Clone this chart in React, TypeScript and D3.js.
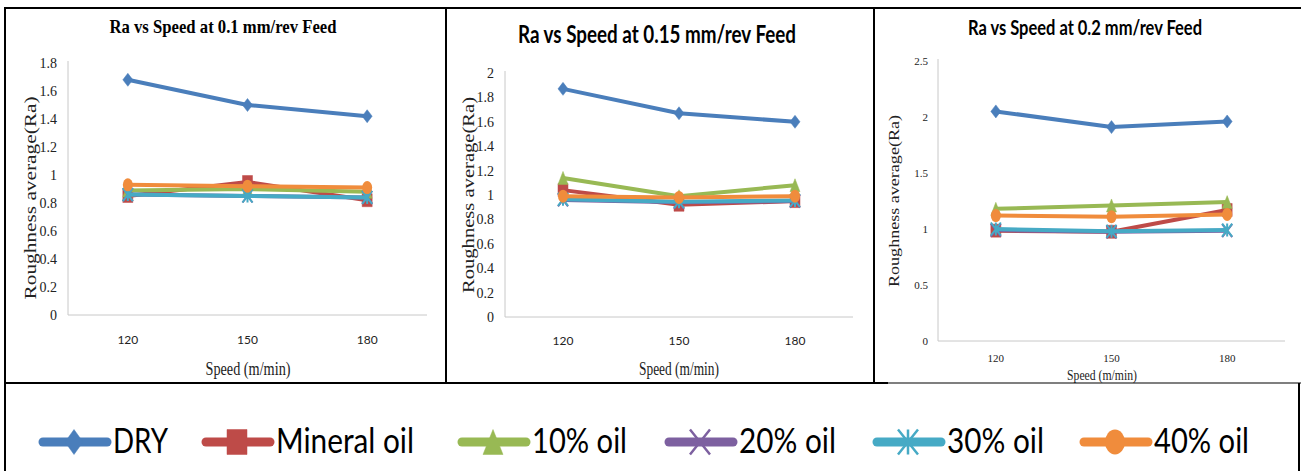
import React from "react";
import * as d3 from "d3";

const speeds = ["120", "150", "180"];
const seriesNames = ["DRY", "Mineral oil", "10% oil", "20% oil", "30% oil", "40% oil"];
const seriesColors = ["#4A7EBB", "#BE4B48", "#98B954", "#7D60A0", "#46AAC5", "#F08C3C"];
const seriesMarkers = ["diamond", "square", "triangle", "x", "star", "circle"];

// Ra values, one row per series (order of seriesNames), columns = speeds
const raFeed01 = [
  [1.68, 1.5, 1.42],
  [0.85, 0.95, 0.82],
  [0.89, 0.9, 0.88],
  [0.86, 0.85, 0.84],
  [0.86, 0.85, 0.84],
  [0.93, 0.92, 0.91],
];
const raFeed015 = [
  [1.87, 1.67, 1.6],
  [1.04, 0.92, 0.95],
  [1.14, 0.99, 1.08],
  [0.96, 0.94, 0.95],
  [0.965, 0.945, 0.955],
  [0.99, 0.98, 0.99],
];
const raFeed02 = [
  [2.05, 1.91, 1.96],
  [0.985, 0.975, 1.17],
  [1.18, 1.21, 1.24],
  [0.99, 0.975, 0.985],
  [1.0, 0.98, 0.99],
  [1.12, 1.11, 1.13],
];

const yTicks01 = [0, 0.2, 0.4, 0.6, 0.8, 1, 1.2, 1.4, 1.6, 1.8];
const yTicks015 = [0, 0.2, 0.4, 0.6, 0.8, 1, 1.2, 1.4, 1.6, 1.8, 2];
const yTicks02 = [0, 0.5, 1, 1.5, 2, 2.5];

const titles = [
  "Ra vs Speed at 0.1 mm/rev Feed",
  "Ra vs Speed at 0.15 mm/rev Feed",
  "Ra vs Speed at 0.2 mm/rev Feed",
];
const yAxisTitle = "Roughness average(Ra)";
const xAxisTitle = "Speed (m/min)";

const SERIF = "'Liberation Serif', 'DejaVu Serif', serif";
const SANS = "Lato, 'Liberation Sans', sans-serif";

function markerPath(kind: string, cx: number, cy: number, w: number, h: number): string {
  const hw = w / 2, hh = h / 2;
  switch (kind) {
    case "diamond":
      return `M${cx},${cy - hh}L${cx + hw},${cy}L${cx},${cy + hh}L${cx - hw},${cy}Z`;
    case "square":
      return `M${cx - hw},${cy - hh}H${cx + hw}V${cy + hh}H${cx - hw}Z`;
    case "triangle":
      return `M${cx},${cy - hh}L${cx + hw},${cy + hh}L${cx - hw},${cy + hh}Z`;
    case "x":
      return `M${cx - hw},${cy - hh}L${cx + hw},${cy + hh}M${cx + hw},${cy - hh}L${cx - hw},${cy + hh}`;
    case "star":
      return `M${cx - hw},${cy - hh}L${cx + hw},${cy + hh}M${cx + hw},${cy - hh}L${cx - hw},${cy + hh}M${cx},${cy - hh}V${cy + hh}`;
    default:
      return "";
  }
}

function Marker({ kind, cx, cy, w, h, color, sw }: any) {
  if (kind === "circle") {
    return <ellipse cx={cx} cy={cy} rx={w / 2} ry={h / 2} fill={color} />;
  }
  const stroked = kind === "x" || kind === "star";
  return (
    <path
      d={markerPath(kind, cx, cy, w, h)}
      fill={stroked ? "none" : color}
      stroke={color}
      strokeWidth={stroked ? sw : 0.5}
    />
  );
}

type PanelProps = {
  data: number[][];
  ticks: number[];
  yMax: number;
  x0: number; x1: number; yTop: number; yBot: number;
  title: string; titleX: number; titleY: number; titleSize: number; titleLen: number; titleFont: string;
  tickFont: string; tickSize: number; tickRight: number;
  xTickFont: string; xTickSize: number; xTickY: number;
  xLabX: number; xLabY: number; xLabSize: number; xLabLen: number;
  yLabX: number; yLabY: number; yLabSize: number; yLabLen: number;
};

function Panel(p: PanelProps) {
  const x = d3.scalePoint<string>().domain(speeds).range([p.x0, p.x1]).padding(0.5);
  const y = d3.scaleLinear().domain([0, p.yMax]).range([p.yBot, p.yTop]);
  const line = d3.line<number>().x((_, i) => x(speeds[i]) as number).y((v) => y(v));
  return (
    <g>
      <text x={p.titleX} y={p.titleY} textAnchor="middle" fontFamily={p.titleFont} fontWeight="bold"
        fontSize={p.titleSize} textLength={p.titleLen} lengthAdjust="spacingAndGlyphs" fill="#000">
        {p.title}
      </text>
      <line x1={p.x0} x2={p.x0} y1={p.yTop - 2} y2={p.yBot} stroke="#c8c8c8" strokeWidth={1} />
      <line x1={p.x0} x2={p.x1} y1={p.yBot} y2={p.yBot} stroke="#c8c8c8" strokeWidth={1} />
      {p.ticks.map((t) => (
        <text key={t} x={p.tickRight} y={y(t)} dy="0.35em" textAnchor="end" fontFamily={p.tickFont}
          fontSize={p.tickSize} fill="#222">
          {String(t)}
        </text>
      ))}
      {speeds.map((s) => (
        <text key={s} x={x(s)} y={p.xTickY} textAnchor="middle" fontFamily={p.xTickFont}
          fontSize={p.xTickSize} fill="#222">
          {s}
        </text>
      ))}
      <text x={p.xLabX} y={p.xLabY} textAnchor="middle" fontFamily={SERIF} fontSize={p.xLabSize}
        textLength={p.xLabLen} lengthAdjust="spacingAndGlyphs" fill="#222">
        {xAxisTitle}
      </text>
      <text transform={`translate(${p.yLabX},${p.yLabY}) rotate(-90)`} textAnchor="middle" dy="0.35em"
        fontFamily={SERIF} fontSize={p.yLabSize} textLength={p.yLabLen} lengthAdjust="spacingAndGlyphs" fill="#222">
        {yAxisTitle}
      </text>
      {p.data.map((vals, si) => (
        <g key={si}>
          <path d={line(vals) as string} fill="none" stroke={seriesColors[si]} strokeWidth={4}
            strokeLinejoin="round" />
          {vals.map((v, i) => (
            <Marker key={i} kind={seriesMarkers[si]} cx={x(speeds[i])} cy={y(v)} w={10} h={13}
              color={seriesColors[si]} sw={2} />
          ))}
        </g>
      ))}
    </g>
  );
}

const legendLineStart = [39, 202, 458, 665, 873, 1080];
const legendTextLen = [55, 138, 95, 97, 97, 95];

export default function App() {
  return (
    <svg width={1301} height={471} style={{ position: "absolute", left: 0, top: 0, display: "block", background: "#fff" }}>
      <rect x={0} y={0} width={1301} height={471} fill="#fff" />
      <Panel data={raFeed01} ticks={yTicks01} yMax={1.8} x0={68} x1={427} yTop={63} yBot={315}
        title={titles[0]} titleX={223} titleY={33} titleSize={19} titleLen={227} titleFont={SERIF}
        tickFont={SERIF} tickSize={14} tickRight={57}
        xTickFont={SANS} xTickSize={12} xTickY={344}
        xLabX={248} xLabY={375} xLabSize={18} xLabLen={85}
        yLabX={30} yLabY={198} yLabSize={17} yLabLen={203} />
      <Panel data={raFeed015} ticks={yTicks015} yMax={2} x0={505} x1={853} yTop={73} yBot={317}
        title={titles[1]} titleX={657} titleY={43} titleSize={24} titleLen={278} titleFont={SANS}
        tickFont={SERIF} tickSize={14} tickRight={494}
        xTickFont={SANS} xTickSize={12} xTickY={345}
        xLabX={679} xLabY={375} xLabSize={18} xLabLen={80}
        yLabX={468} yLabY={195} yLabSize={16} yLabLen={196} />
      <Panel data={raFeed02} ticks={yTicks02} yMax={2.5} x0={938} x1={1285} yTop={61} yBot={341}
        title={titles[2]} titleX={1085} titleY={35} titleSize={21} titleLen={234} titleFont={SANS}
        tickFont={SERIF} tickSize={11} tickRight={928}
        xTickFont={SERIF} xTickSize={11} xTickY={362}
        xLabX={1102} xLabY={380} xLabSize={15} xLabLen={70}
        yLabX={894} yLabY={201} yLabSize={14} yLabLen={172} />

      {/* table borders */}
      <line x1={5} x2={5} y1={7} y2={471} stroke="#000" strokeWidth={2} />
      <line x1={4} x2={1301} y1={8} y2={8} stroke="#000" strokeWidth={2} />
      <line x1={446} x2={446} y1={8} y2={383} stroke="#000" strokeWidth={2} />
      <line x1={874} x2={874} y1={8} y2={383} stroke="#000" strokeWidth={2} />
      <line x1={4} x2={888} y1={383} y2={383} stroke="#000" strokeWidth={2} />
      <line x1={888} x2={1301} y1={383} y2={383} stroke="#000" strokeWidth={1.2} />
      <line x1={1299} x2={1299} y1={383} y2={471} stroke="#000" strokeWidth={2} />

      {/* legend */}
      {seriesNames.map((name, i) => {
        const lx = legendLineStart[i];
        const cy = 442;
        return (
          <g key={name}>
            <line x1={lx + 4} x2={lx + 68} y1={cy} y2={cy} stroke={seriesColors[i]} strokeWidth={9}
              strokeLinecap="round" />
            <Marker kind={seriesMarkers[i]} cx={lx + 35} cy={cy} w={i === 0 ? 18 : 20} h={25}
              color={seriesColors[i]} sw={2.5} />
            <text x={lx + 74} y={453} fontFamily={SANS} fontSize={34} textLength={legendTextLen[i]}
              lengthAdjust="spacingAndGlyphs" fill="#000">
              {name}
            </text>
          </g>
        );
      })}
    </svg>
  );
}
